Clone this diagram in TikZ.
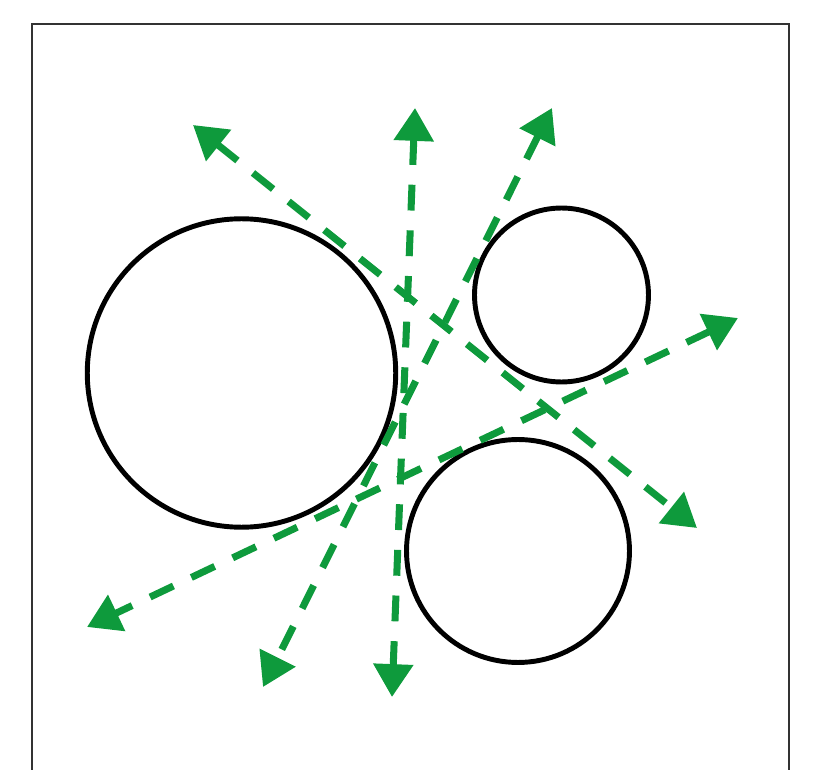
\documentclass[tikz,border=0pt]{standalone}
\usetikzlibrary{arrows.meta}

\definecolor{raygreen}{RGB}{14,154,60}
\definecolor{framegray}{RGB}{51,51,51}

\begin{document}
\begin{tikzpicture}[
    x=0.02cm, y=-0.02cm,
    ring/.style={
        circle, draw=black, line width=2.8pt,
        inner sep=0pt, fill=none
    },
    ray/.style={
        {Triangle[length=18.7pt, width=22pt]}-{Triangle[length=18.7pt, width=22pt]},
        draw=raygreen, line width=4pt,
        dash pattern=on 14.7pt off 11.3pt
    }
]
\useasboundingbox (0,0) rectangle (823,770);

% Frame
\draw[framegray, line width=1.7pt] (32,770) |- (789,24) -- (789,770);

% Circles
\node[ring, minimum size=6.17cm] (big) at (241.5,373) {};
\node[ring, minimum size=3.48cm] (small) at (561.5,295) {};
\node[ring, minimum size=4.46cm] (low) at (518,551) {};

% Ray ends
\coordinate (a1) at (193,125);
\coordinate (a2) at (697,528);
\coordinate (b1) at (415,108);
\coordinate (b2) at (392,697);
\coordinate (c1) at (552,108);
\coordinate (c2) at (263,687);
\coordinate (d1) at (738,318);
\coordinate (d2) at (87,627);

% Rays
\draw[ray] (a1) -- (a2);
\draw[ray] (b1) -- (b2);
\draw[ray] (c1) -- (c2);
\draw[ray] (d1) -- (d2);

\end{tikzpicture}
\end{document}
